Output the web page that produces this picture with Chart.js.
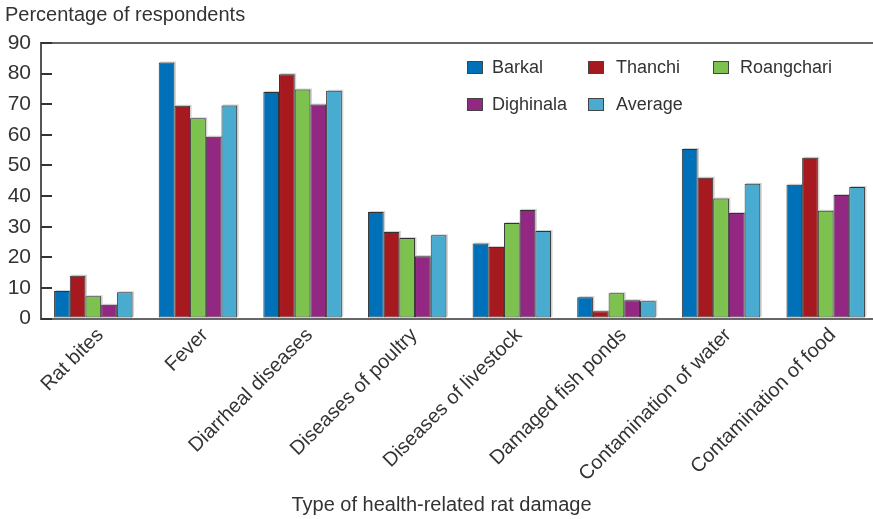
<!DOCTYPE html>
<html>
<head>
<meta charset="utf-8">
<script src="https://cdn.jsdelivr.net/npm/chart.js@4.4.1/dist/chart.umd.min.js"></script>
<style>
  html, body { margin: 0; padding: 0; background: #fff; overflow: hidden; }
  #wrap { width: 873px; height: 519px; overflow: hidden; }
</style>
</head>
<body>
<div id="wrap"><canvas id="myChart" width="880" height="519"></canvas></div>
<script>
"use strict";
const categories = ["Rat bites", "Fever", "Diarrheal diseases", "Diseases of poultry",
  "Diseases of livestock", "Damaged fish ponds", "Contamination of water", "Contamination of food"];
const seriesNames = ["Barkal", "Thanchi", "Roangchari", "Dighinala", "Average"];
const barkal     = [9, 83.6, 74, 34.8, 24.5, 7, 55.4, 43.7];
const thanchi    = [14, 69.5, 79.8, 28.3, 23.4, 2.4, 46, 52.5];
const roangchari = [7.3, 65.4, 74.8, 26.3, 31.2, 8.3, 39.2, 35.2];
const dighinala  = [4.5, 59.4, 69.9, 20.4, 35.5, 6, 34.5, 40.4];
const average    = [8.6, 69.6, 74.4, 27.2, 28.6, 5.7, 44, 43];
const yTicks = [0, 10, 20, 30, 40, 50, 60, 70, 80, 90];

const colors = ["#0070b8", "#a6191e", "#7dc24e", "#922882", "#4aabd0"];
const FONT = "'Liberation Sans', Arial, sans-serif";
const TEXT = "#333";

// legend drawn inside the plot, two rows
const legendSpots = [[467, 61], [588, 61], [713, 61], [467, 98], [588, 98]];
const legendTextX = [492, 616, 740, 492, 616];

const legendPlugin = {
  id: "insideLegend",
  afterDraw(chart) {
    const c = chart.ctx;
    c.save();
    chart.data.datasets.forEach((ds, i) => {
      const [x, y] = legendSpots[i];
      c.fillStyle = ds.backgroundColor;
      c.fillRect(x, y, 16, 13);
      c.strokeStyle = "#444";
      c.lineWidth = 1;
      c.strokeRect(x + 0.5, y + 0.5, 15, 12);
      c.fillStyle = TEXT;
      c.font = "18px " + FONT;
      c.textBaseline = "middle";
      c.fillText(ds.label, legendTextX[i], y + 7);
    });
    c.restore();
  }
};

// small inward ticks on the y axis
const innerTicks = {
  id: "innerTicks",
  afterDraw(chart) {
    const c = chart.ctx;
    const y = chart.scales.y;
    const left = chart.chartArea.left;
    c.save();
    c.strokeStyle = "#333";
    c.lineWidth = 2;
    y.ticks.forEach(t => {
      const py = Math.round(y.getPixelForValue(t.value));
      c.beginPath();
      c.moveTo(left, py);
      c.lineTo(left + 11, py);
      c.stroke();
    });
    c.restore();
  }
};

// light shadow behind the bars
const barShadow = {
  id: "barShadow",
  beforeDatasetsDraw(chart) {
    const c = chart.ctx;
    c.save();
    c.fillStyle = "rgba(0,0,0,0.18)";
    chart.data.datasets.forEach((ds, i) => {
      chart.getDatasetMeta(i).data.forEach(bar => {
        const w = bar.width;
        c.fillRect(bar.x - w / 2 + 1.5, bar.y - 1, w, bar.base - bar.y);
      });
    });
    c.restore();
  }
};

const seriesData = [barkal, thanchi, roangchari, dighinala, average];

const ctx = document.getElementById("myChart");
const myChart = new Chart(ctx, {
  type: "bar",
  data: {
    labels: categories,
    datasets: seriesNames.map((name, i) => ({
      label: name,
      data: seriesData[i],
      backgroundColor: colors[i],
      borderColor: "#333",
      borderWidth: 1,
      borderSkipped: false,
      categoryPercentage: 0.75,
      barPercentage: 1.0,
    })),
  },
  options: {
    responsive: false,
    animation: false,
    layout: { padding: { left: 5, right: 2, top: 0, bottom: 2 } },
    plugins: {
      legend: { display: false },
      tooltip: { enabled: false },
      title: {
        display: true,
        text: "Percentage of respondents",
        align: "start",
        color: TEXT,
        font: { family: FONT, size: 20, weight: "normal" },
        padding: { top: 3, bottom: 16 },
      },
      subtitle: {
        display: true,
        position: "bottom",
        text: "Type of health-related rat damage",
        color: TEXT,
        font: { family: FONT, size: 20, weight: "normal" },
        padding: { top: 10, bottom: 0 },
      },
    },
    scales: {
      x: {
        grid: { display: false },
        border: { color: "#666", width: 2 },
        afterFit(scale) { scale.paddingLeft = 0; scale.paddingRight = 0; },
        ticks: {
          color: TEXT,
          font: { family: FONT, size: 20 },
          minRotation: 45,
          maxRotation: 45,
          padding: -3,
          labelOffset: 7,
        },
      },
      y: {
        min: 0,
        max: 90,
        afterBuildTicks(scale) { scale.ticks = yTicks.map(v => ({ value: v })); },
        afterFit(scale) { scale.width = 36; },
        grid: {
          drawTicks: false,
          color: c => (c.tick && c.tick.value === 90 ? "#666" : "rgba(0,0,0,0)"),
          lineWidth: 2,
        },
        border: { color: "#555", width: 2 },
        ticks: {
          color: TEXT,
          font: { family: FONT, size: 21 },
          padding: 10,
        },
      },
    },
  },
  plugins: [barShadow, innerTicks, legendPlugin],
});
</script>
</body>
</html>
